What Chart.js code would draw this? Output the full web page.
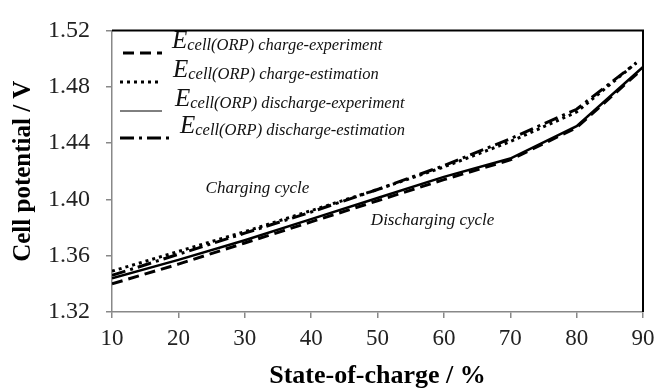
<!DOCTYPE html>
<html lang="en">
    <head>
        <meta charset="utf-8" />
        <script src="https://cdn.jsdelivr.net/npm/chart.js@4/dist/chart.umd.min.js"></script>
        <title>Cell potential vs state-of-charge</title>
        <style>
            html, body { margin: 0; padding: 0; background: #fff; }
            #wrap { width: 669px; height: 392px; }
        </style>
    </head>
    <body>
        <div id="wrap"><canvas id="grafico" width="669" height="392"></canvas></div>
        <script>
            // data
            const socExp = [10, 20, 30, 40, 50, 60, 70, 80, 90];
            const socEst = [10, 20, 30, 40, 50, 60, 70, 80, 89];
            const chargeExperiment = [1.340, 1.354, 1.369, 1.384, 1.399, 1.414, 1.428, 1.451, 1.493];
            const dischargeExperiment = [1.344, 1.357, 1.371, 1.386, 1.401, 1.416, 1.429, 1.452, 1.494];
            const chargeEstimation = [1.349, 1.363, 1.377, 1.392, 1.407, 1.423, 1.441, 1.462, 1.497];
            const dischargeEstimation = [1.346, 1.361, 1.376, 1.391, 1.407, 1.424, 1.443, 1.464, 1.497];
            const seriesNames = ["charge-experiment", "charge-estimation", "discharge-experiment", "discharge-estimation"];
            const yTicks = [1.32, 1.36, 1.40, 1.44, 1.48, 1.52];
            const xTicks = [10, 20, 30, 40, 50, 60, 70, 80, 90];

            const serif = "'Liberation Serif', 'Times New Roman', serif";

            function pares(xs, ys) {
                return xs.map((x, i) => ({ x: x, y: ys[i] }));
            }

            // legend drawn inside the plot, like the original
            const leyenda = {
                id: "leyenda",
                afterDraw(chart) {
                    const ctx = chart.ctx;
                    const filas = [
                        { ds: 0, y: 53, x0: 123, x1: 162, tx: 172 },
                        { ds: 1, y: 82, x0: 120, x1: 162, tx: 173 },
                        { ds: 2, y: 111, x0: 120, x1: 162, tx: 175, w: 1 },
                        { ds: 3, y: 138, x0: 120, x1: 170, tx: 180 }
                    ];
                    ctx.save();
                    filas.forEach((f) => {
                        const ds = chart.data.datasets[f.ds];
                        ctx.strokeStyle = "#000";
                        ctx.lineWidth = f.w || ds.borderWidth;
                        ctx.setLineDash(ds.borderDash || []);
                        ctx.beginPath();
                        ctx.moveTo(f.x0, f.y);
                        ctx.lineTo(f.x1, f.y);
                        ctx.stroke();
                        ctx.setLineDash([]);
                        ctx.fillStyle = "#111";
                        ctx.textBaseline = "alphabetic";
                        ctx.font = "italic 25px " + serif;
                        ctx.fillText("E", f.tx, f.y - 5);
                        const wE = ctx.measureText("E").width;
                        ctx.font = "italic 16.5px " + serif;
                        ctx.fillText("cell(ORP) " + seriesNames[f.ds], f.tx + wE, f.y - 3);
                    });
                    // notes
                    const sx = chart.scales.x, sy = chart.scales.y;
                    ctx.font = "italic 17px " + serif;
                    ctx.fillText("Charging cycle", sx.getPixelForValue(24.1), sy.getPixelForValue(1.4045));
                    ctx.fillText("Discharging cycle", sx.getPixelForValue(49), sy.getPixelForValue(1.3815));
                    // black frame on top and right
                    const a = chart.chartArea;
                    ctx.strokeStyle = "#000";
                    ctx.lineWidth = 2;
                    ctx.beginPath();
                    ctx.moveTo(a.left, a.top);
                    ctx.lineTo(a.right, a.top);
                    ctx.lineTo(a.right, a.bottom);
                    ctx.stroke();
                    ctx.restore();
                }
            };

            new Chart(document.getElementById("grafico").getContext("2d"), {
                type: "line",
                data: {
                    datasets: [
                        { label: seriesNames[0], data: pares(socExp, chargeExperiment), borderColor: "#000", borderWidth: 3, borderDash: [11, 6] },
                        { label: seriesNames[1], data: pares(socEst, chargeEstimation), borderColor: "#000", borderWidth: 3, borderDash: [3, 4] },
                        { label: seriesNames[2], data: pares(socExp, dischargeExperiment), borderColor: "#000", borderWidth: 2.5 },
                        { label: seriesNames[3], data: pares(socEst, dischargeEstimation), borderColor: "#000", borderWidth: 3, borderDash: [14, 5, 3, 5] }
                    ]
                },
                options: {
                    responsive: false,
                    animation: false,
                    elements: { point: { radius: 0 }, line: { tension: 0, fill: false } },
                    layout: { padding: { left: 0, right: 26, top: 17, bottom: 0 } },
                    plugins: { legend: { display: false }, tooltip: { enabled: false } },
                    scales: {
                        x: {
                            type: "linear",
                            min: 10,
                            max: 90,
                            afterBuildTicks: (s) => { s.ticks = xTicks.map((v) => ({ value: v })); },
                            afterFit: (s) => { s.height = 80; },
                            grid: { drawOnChartArea: false, drawTicks: true, tickLength: 6, color: "#888", lineWidth: 1.5 },
                            border: { color: "#888", width: 1.5 },
                            ticks: { color: "#222", padding: 7, maxRotation: 0, font: { family: serif, size: 23 } },
                            title: { display: true, text: "State-of-charge / %", color: "#000", padding: { top: 4, bottom: 0 }, font: { family: serif, size: 26, weight: "bold" } }
                        },
                        y: {
                            min: 1.32,
                            max: 1.52,
                            afterBuildTicks: (s) => { s.ticks = yTicks.map((v) => ({ value: v })); },
                            afterFit: (s) => { s.width = 112; },
                            grid: { drawOnChartArea: false, drawTicks: true, tickLength: 6, color: "#888", lineWidth: 1.5 },
                            border: { color: "#888", width: 1.5 },
                            ticks: { color: "#222", padding: 16, font: { family: serif, size: 24 }, callback: (v) => v.toFixed(2) },
                            title: { display: true, text: "Cell potential / V", color: "#000", padding: { bottom: 0, top: 9 }, font: { family: serif, size: 25, weight: "bold" } }
                        }
                    }
                },
                plugins: [leyenda]
            });
        </script>
    </body>
</html>
